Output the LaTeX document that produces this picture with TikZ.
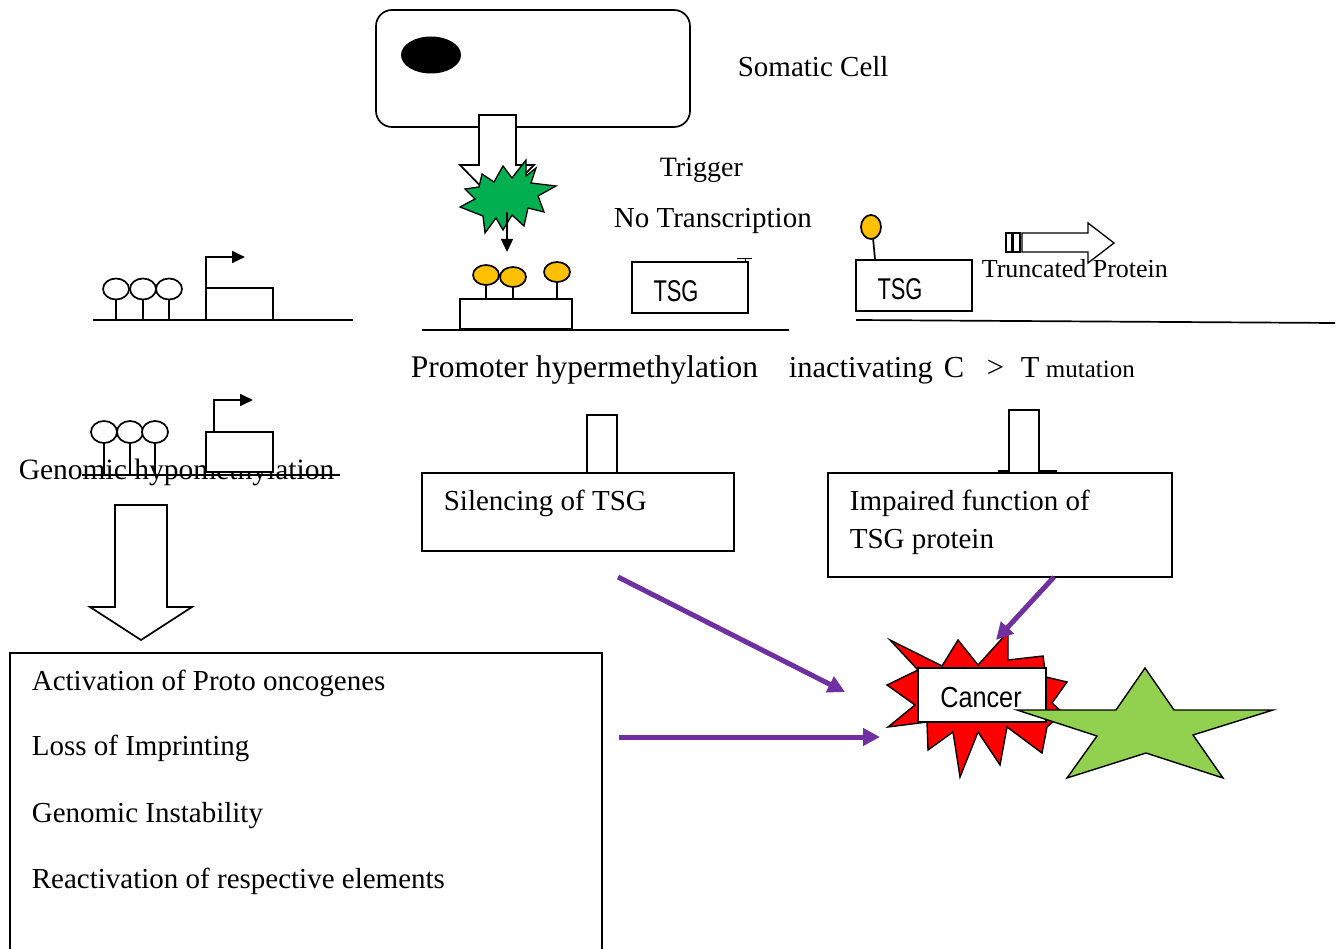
\documentclass[tikz,border=0pt]{standalone}
\usepackage{fontspec}
\usepackage{graphicx}
\setmainfont{Liberation Serif}
\newfontfamily\sansf{Liberation Sans}
\usetikzlibrary{arrows.meta}
\definecolor{pur}{RGB}{112,48,160}
\definecolor{yel}{RGB}{255,192,0}
\definecolor{grn}{RGB}{0,176,80}
\definecolor{lgrn}{RGB}{146,208,80}
\definecolor{rd}{RGB}{255,0,0}
\begin{document}
\begin{tikzpicture}[x=1pt,y=-1pt,line width=1.7pt,
  txt/.style={font=\fontsize{#1}{#1}\selectfont, inner sep=0pt, anchor=base west},
  stxt/.style={font=\sansf\fontsize{#1}{#1}\selectfont, inner sep=0pt, anchor=base},
  box/.style={draw, fill=white},
  lolly/.style={draw, fill=yel},
  hollow/.style={draw, fill=white},
  purarrow/.style={draw=pur, line width=5pt, -{Triangle[length=17pt,width=17pt]}},
  tiparrow/.style={-{Triangle[length=13pt,width=12pt]}},
  blockarrow/.style={draw, fill=white, line width=1.7pt}]
\useasboundingbox (0,0) rectangle (1343,949);
\fill[white] (0,0) rectangle (1343,949);

% ---------- somatic cell ----------
\draw[rounded corners=16pt] (376,10) rectangle (690,127);
\fill (431,55) ellipse [x radius=30pt, y radius=18.5pt];
\node[txt=29] (somatic) at (737,77) {Somatic Cell};
\draw[blockarrow] (479,115) -- (516,115) -- (516,165) -- (534,165) -- (497,203) -- (460,165) -- (479,165) -- cycle;

% ---------- trigger burst ----------
\draw[fill=grn, line width=1.3pt] (482,174) -- (494,182) -- (503,166) -- (512,178) -- (526,160) -- (526,176) -- (536,168) -- (531,183) -- (556,186) -- (538,196) -- (544,212) -- (528,208) -- (524,226) -- (512,215) -- (503,230) -- (496,218) -- (485,233) -- (483,216) -- (460,207) -- (475,199) -- (465,189) -- (479,187) -- cycle;
\coordinate (trs) at (507,212);
\coordinate (tre) at (507,252);
\draw[tiparrow, line width=1.4pt] (trs) -- (tre);
\node[txt=28] (trigger) at (659,177) {Trigger};
\node[txt=29] (notr) at (613,228) {No Transcription};

% ---------- promoter hypermethylation gene ----------
\draw (422,330) -- (789,330);
\draw[box] (460,299) rectangle (572,329);
\draw (486,285) -- (486,299) (513,287) -- (513,299) (557,282) -- (557,299);
\draw[lolly] (486,275) ellipse [x radius=13pt, y radius=10pt];
\draw[lolly] (513,277) ellipse [x radius=13pt, y radius=10pt];
\draw[lolly] (557,272) ellipse [x radius=13pt, y radius=10pt];
\draw[line width=1pt] (737,259) -- (752,259) (745,259) -- (745,263);
\draw[box] (632,262) rectangle (748,313);
\node[stxt=30] (tsg1) at (676,302) {\scalebox{0.73}[1]{TSG}};

% ---------- mutation gene ----------
\draw (856,320) -- (1335,323);
\draw (873,238) -- (875,259);
\draw[lolly] (871,227) ellipse [x radius=10pt, y radius=12pt];
\draw[box] (856,260) rectangle (972,311);
\node[stxt=30] (tsg2) at (900,300) {\scalebox{0.73}[1]{TSG}};
\draw[line width=1.3pt] (1006,233) rectangle (1012,252);
\draw[line width=1.3pt] (1013,233) rectangle (1020,252);
\draw[blockarrow, line width=1.3pt] (1022,233) -- (1088,233) -- (1088,223) -- (1114,243) -- (1088,263) -- (1088,252) -- (1022,252) -- cycle;
\node[txt=26] (trunc) at (981,278) {Truncated Protein};

% ---------- labels row ----------
\node[txt=31.5] (prom) at (410,377) {Promoter hypermethylation};
\node[txt=30.5] (inact) at (788,377) {inactivating};
\node[txt=30.5] (cc) at (943,377) {C};
\node[txt=30.5] (gt) at (986,377) {>};
\node[txt=30.5] (tt) at (1020,377) {T};
\node[txt=25] (mut) at (1045,377) {mutation};

% ---------- left: normal gene ----------
\draw (93,320) -- (353,320);
\draw (116,299) -- (116,320) (143,299) -- (143,320) (169,299) -- (169,320);
\draw[hollow] (116,289) ellipse [x radius=13pt, y radius=10.5pt];
\draw[hollow] (143,289) ellipse [x radius=13pt, y radius=10.5pt];
\draw[hollow] (169,289) ellipse [x radius=13pt, y radius=10.5pt];
\draw (206,320) rectangle (273,288);
\coordinate (pa1) at (206,288);
\coordinate (pa1t) at (245,257);
\draw[tiparrow] (pa1) -- (206,257) -- (pa1t);

% ---------- left: hypomethylated gene ----------
\node[txt=29.5] (genhypo) at (18,479) {Genomic hypomethylation};
\draw (82,475) -- (340,475);
\draw (104,443) -- (104,475) (130,443) -- (130,475) (155,443) -- (155,475);
\draw[hollow] (104,432) ellipse [x radius=13pt, y radius=11pt];
\draw[hollow] (130,432) ellipse [x radius=13pt, y radius=11pt];
\draw[hollow] (155,432) ellipse [x radius=13pt, y radius=11pt];
\draw[box] (206,432) rectangle (273,472);
\coordinate (pa2) at (214,432);
\coordinate (pa2t) at (253,400);
\draw[tiparrow] (pa2) -- (214,400) -- (pa2t);

% ---------- left down block arrow & list ----------
\draw[blockarrow] (115,505) -- (167,505) -- (167,607) -- (192,607) -- (141,640) -- (90,607) -- (115,607) -- cycle;
\draw (10,960) -- (10,653) -- (602,653) -- (602,960);
\node[txt=29] (l1) at (31,690) {Activation of Proto oncogenes};
\node[txt=29] (l2) at (31,755) {Loss of Imprinting};
\node[txt=29] (l3) at (31,822) {Genomic Instability};
\node[txt=29] (l4) at (31,888) {Reactivation of respective elements};

% ---------- middle boxes ----------
\draw[box] (587,415) rectangle (617,473);
\draw[box] (422,473) rectangle (734,551);
\node[txt=29] (sil) at (443,510) {Silencing of TSG};
\draw[line width=3pt] (998,471) -- (1057,471);
\draw[box] (1009,410) rectangle (1039,473);
\draw[box] (828,473) rectangle (1172,577);
\node[txt=29] (imp1) at (849,510) {Impaired function of};
\node[txt=29] (imp2) at (849,548) {TSG protein};

% ---------- cancer ----------
\draw[fill=rd, line width=1.4pt] (890,640) -- (942,666) -- (958,640) -- (978,665) -- (1008,632) -- (1008,660) -- (1043,656) -- (1046,677) -- (1067,682) -- (1052,703) -- (1063,713) -- (1047,727) -- (1042,753) -- (1007,727) -- (1000,765) -- (978,732) -- (960,777) -- (953,732) -- (928,750) -- (927,722) -- (888,727) -- (915,705) -- (887,685) -- (918,670) -- cycle;
\draw[box] (918,668) rectangle (1046,722);
\node[stxt=29] (cancer) at (981,707) {\scalebox{0.87}[1]{Cancer}};
\draw[fill=lgrn, line width=1.4pt] (1145,668) -- (1174,710) -- (1273,710) -- (1193,735) -- (1223,778) -- (1146,753) -- (1067,778) -- (1097,736) -- (1017,710) -- (1116,710) -- cycle;

% ---------- purple arrows ----------
\coordinate (p1s) at (618,577);
\coordinate (p1e) at (845,692);
\coordinate (p2s) at (619,737);
\coordinate (p2e) at (880,737);
\coordinate (p3s) at (1054,577);
\coordinate (p3e) at (996,640);
\draw[purarrow] (p1s) -- (p1e);
\draw[purarrow] (p2s) -- (p2e);
\draw[purarrow] (p3s) -- (p3e);
\end{tikzpicture}
\end{document}
